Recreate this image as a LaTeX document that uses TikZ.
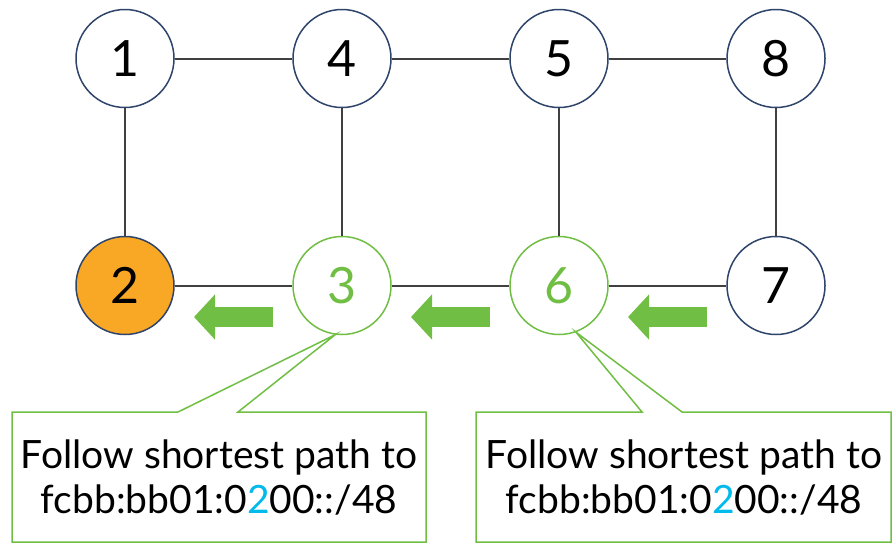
\documentclass[tikz,border=0pt]{standalone}
\usepackage{fontspec}
\setmainfont{Lato}
\usetikzlibrary{arrows.meta}
\definecolor{ringblue}{RGB}{46,68,106}
\definecolor{srcorange}{RGB}{249,168,38}
\definecolor{pathgreen}{RGB}{112,190,68}
\definecolor{bitblue}{RGB}{0,186,235}
\definecolor{linkgray}{RGB}{64,64,64}
\begin{document}
\begin{tikzpicture}
[every node/.style={inner sep=0pt},
 router/.style={circle, minimum size=98pt, fill=white, line width=1.5pt, draw=ringblue, font=\fontsize{50}{50}\selectfont},
 onpath/.style={router, draw=pathgreen, text=pathgreen},
 link/.style={line width=2pt, color=linkgray},
 flow/.style={line width=20pt, color=pathgreen, -{Triangle[length=21pt,width=44pt]}},
 callout/.style={line width=1.5pt, draw=pathgreen, fill=white},
 note/.style={align=center, font=\fontsize{39}{45}\selectfont}]
\useasboundingbox (0pt, 0pt) rectangle (893pt, -544pt);
\node (1) [router] at (125pt, -58.5pt) {1};
\node (4) [router] at (342pt, -58.5pt) {4};
\node (5) [router] at (559pt, -58.5pt) {5};
\node (8) [router] at (776pt, -58.5pt) {8};
\node (2) [router, fill=srcorange] at (125pt, -285.5pt) {2};
\node (3) [onpath] at (342pt, -285.5pt) {3};
\node (6) [onpath] at (559pt, -285.5pt) {6};
\node (7) [router] at (776pt, -285.5pt) {7};
\draw [link] (1) to (4);
\draw [link] (4) to (5);
\draw [link] (5) to (8);
\draw [link] (1) to (2);
\draw [link] (4) to (3);
\draw [link] (5) to (6);
\draw [link] (8) to (7);
\draw [link] (2) to (3);
\draw [link] (3) to (6);
\draw [link] (6) to (7);
% forwarding direction
\coordinate (f1s) at (273pt, -317pt);
\coordinate (f1e) at (194pt, -317pt);
\coordinate (f2s) at (490pt, -317pt);
\coordinate (f2e) at (411pt, -317pt);
\coordinate (f3s) at (707pt, -317pt);
\coordinate (f3e) at (628pt, -317pt);
\draw [flow] (f1s) to (f1e);
\draw [flow] (f2s) to (f2e);
\draw [flow] (f3s) to (f3e);
% callouts
\coordinate (tip3) at (3.-98);
\coordinate (tip6) at (6.-70);
\coordinate (b3nw) at (12pt, -412pt);
\coordinate (b3se) at (426pt, -542pt);
\coordinate (b6nw) at (476pt, -412pt);
\coordinate (b6se) at (891pt, -542pt);
\draw [callout] (b3nw) -- (178pt, -412pt) -- (tip3) -- (238pt, -412pt) -- (b3se |- b3nw) -- (b3se) -- (b3nw |- b3se) -- cycle;
\draw [callout] (b6nw) -- (642pt, -412pt) -- (tip6) -- (682pt, -412pt) -- (b6se |- b6nw) -- (b6se) -- (b6nw |- b6se) -- cycle;
\node (n3) [note] at (219pt, -478pt) {Follow shortest path to\\fcbb:bb01:0\textcolor{bitblue}{2}00::/48};
\node (n6) [note] at (684pt, -478pt) {Follow shortest path to\\fcbb:bb01:0\textcolor{bitblue}{2}00::/48};
\end{tikzpicture}
\end{document}
